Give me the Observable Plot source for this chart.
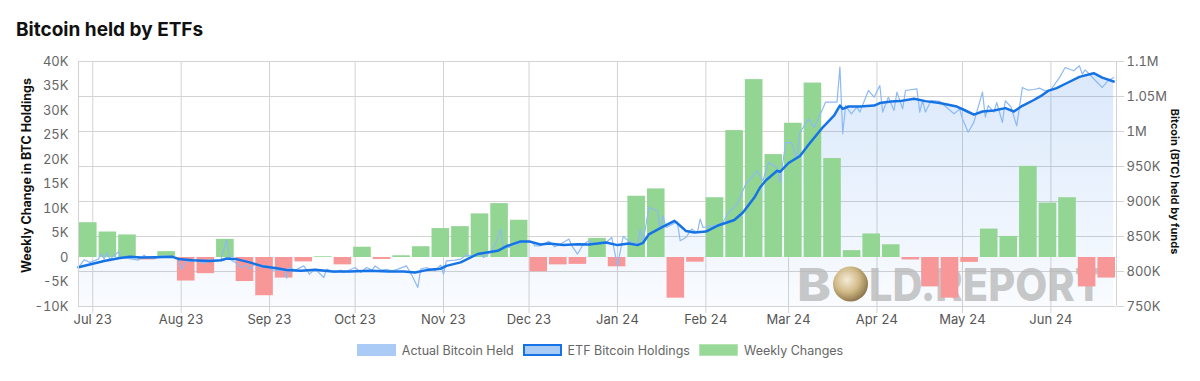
<!DOCTYPE html>
<html>
<head>
<meta charset="utf-8">
<script src="https://cdn.jsdelivr.net/npm/d3@7"></script>
<script src="https://cdn.jsdelivr.net/npm/@observablehq/plot@0.6"></script>
<style>
  html, body { margin: 0; padding: 0; background: #fff; }
  body { width: 1200px; height: 381px; overflow: hidden; font-family: Inter, "Noto Sans", sans-serif; }
  #title { height: 45px; box-sizing: border-box; padding: 19px 0 0 16px; font-size: 19px; font-weight: 700; color: #111; line-height: 22px; }
  #chart svg { display: block; }
  #legend { display: flex; justify-content: center; align-items: center; margin-top: 7px; height: 14px; font-size: 12.5px; color: #666; }
  .item { display: flex; align-items: center; margin: 0 4.5px; }
  .box { width: 39px; height: 12px; box-sizing: border-box; margin-right: 6px; }
</style>
</head>
<body>
<div id="title">Bitcoin held by ETFs</div>
<div id="chart"></div>
<div id="legend">
  <div class="item"><div class="box" style="background:#a9cbf6;border:1px solid #a9cbf6"></div><span>Actual Bitcoin Held</span></div>
  <div class="item"><div class="box" style="background:#a9cbf6;border:2px solid #1673e6"></div><span>ETF Bitcoin Holdings</span></div>
  <div class="item"><div class="box" style="background:#98d998;border:1px solid #b5e5b5"></div><span>Weekly Changes</span></div>
</div>
<script>
// ---------------- data ----------------
const xStart = "2023-06-26";
const xEnd = "2024-06-24";

// weekly change in BTC holdings (thousands of BTC), one value per weekly bar
const weeklyChangeK = [7.1, 5.2, 4.6, -0.5, 1.2, -4.8, -3.3, 3.7, -4.9, -7.8, -4.2, -0.9, 0.15, -1.5, 2.1, -0.4, 0.35, 2.2, 5.9, 6.3,
  8.9, 11.0, 7.6, -2.9, -1.5, -1.4, 3.9, -1.9, 12.5, 14.0, -8.3, -0.95, 12.2, 25.9, 36.3, 21.0, 27.4, 35.6, 20.2, 1.4,
  4.8, 2.6, -0.5, -6.0, -8.3, -1.0, 5.8, 4.3, 18.6, 11.1, 12.2, -6.0, -4.2];

// ETF Bitcoin holdings (smoothed), thousands of BTC
const etfDates = ["2023-06-26","2023-07-01","2023-07-05","2023-07-10","2023-07-14","2023-07-18","2023-07-23","2023-07-29","2023-07-31","2023-08-05",
  "2023-08-11","2023-08-15","2023-08-17","2023-08-20","2023-08-25","2023-08-30","2023-09-03","2023-09-07","2023-09-12","2023-09-17",
  "2023-09-23","2023-09-29","2023-10-06","2023-10-13","2023-10-18","2023-10-22","2023-10-26","2023-10-31","2023-11-02","2023-11-07",
  "2023-11-13","2023-11-20","2023-11-23","2023-11-28","2023-12-01","2023-12-05","2023-12-08","2023-12-13","2023-12-18","2023-12-22",
  "2023-12-28","2024-01-01","2024-01-05","2024-01-08","2024-01-10","2024-01-12","2024-01-17","2024-01-21","2024-01-23","2024-01-25",
  "2024-01-28","2024-02-01","2024-02-05","2024-02-11","2024-02-14","2024-02-18","2024-02-20","2024-02-22","2024-02-26","2024-02-27",
  "2024-03-01","2024-03-05","2024-03-08","2024-03-11","2024-03-13","2024-03-17","2024-03-19","2024-03-20","2024-03-22","2024-03-26",
  "2024-03-31","2024-04-02","2024-04-06","2024-04-09","2024-04-14","2024-04-18","2024-04-23","2024-04-29","2024-05-02","2024-05-05",
  "2024-05-08","2024-05-12","2024-05-16","2024-05-19","2024-05-22","2024-05-26","2024-05-29","2024-05-31","2024-06-03","2024-06-07",
  "2024-06-11","2024-06-16","2024-06-19","2024-06-23"];
const etfHeldK = [806, 811, 815, 819, 821, 820, 820.5, 821, 818, 816,
  815, 816, 818.5, 818, 813, 807, 805, 802, 801, 802.5,
  800, 800, 801, 800, 800, 798.5, 802, 804, 808, 813,
  825, 829.5, 836, 843, 843, 838.5, 840, 838, 839, 838.5,
  841.4, 837.7, 840, 837.7, 841, 853, 864, 872.4, 865.3, 858,
  855.7, 857, 865.3, 873.5, 884.3, 905.7, 920, 930, 943.9, 942.4,
  955, 965, 981, 996, 1006, 1023, 1037, 1032.4, 1035.7, 1035.7,
  1037, 1040.6, 1043, 1043.4, 1046.7, 1043.4, 1040.6, 1035.7, 1030, 1024,
  1028.6, 1030, 1033.4, 1028.6, 1036.7, 1045, 1052, 1058, 1062, 1070,
  1078, 1083.3, 1077, 1071.4];

// Actual Bitcoin held (daily readings), thousands of BTC
const actualHeld = [
  ["2023-06-26",806],["2023-06-28",816.7],["2023-06-30",813],["2023-07-03",817.7],["2023-07-04",825],["2023-07-05",817.7],["2023-07-06",827],["2023-07-07",817.7],
  ["2023-07-10",828],["2023-07-11",820],["2023-07-15",817.7],["2023-07-17",816.3],["2023-07-19",823.4],["2023-07-20",820],["2023-07-23",818.6],["2023-07-25",822.4],
  ["2023-07-29",821.5],["2023-07-31",817.7],["2023-08-01",803.4],["2023-08-03",815.3],["2023-08-04",814],["2023-08-06",816.7],["2023-08-09",811.4],["2023-08-11",816.7],
  ["2023-08-14",815.3],["2023-08-15",818],["2023-08-17",845.3],["2023-08-18",817.7],["2023-08-20",812.9],["2023-08-22",805.7],["2023-08-24",809],["2023-08-25",803.4],
  ["2023-08-27",810.6],["2023-08-29",805.7],["2023-08-31",809],["2023-09-02",802],["2023-09-06",802],["2023-09-07",790.6],["2023-09-08",805.7],["2023-09-10",802],
  ["2023-09-13",808],["2023-09-15",796.3],["2023-09-17",803.4],["2023-09-20",791.4],["2023-09-21",803.4],["2023-09-24",798.6],["2023-09-26",802],["2023-09-27",798.6],
  ["2023-10-01",805.7],["2023-10-03",798.6],["2023-10-05",805.7],["2023-10-07",802],["2023-10-08",808],["2023-10-10",802],["2023-10-12",803],["2023-10-14",801],
  ["2023-10-16",803.4],["2023-10-19",808],["2023-10-21",793.9],["2023-10-23",777.1],["2023-10-24",803.4],["2023-10-26",805.7],["2023-10-29",801],["2023-10-31",809],
  ["2023-11-01",796.3],["2023-11-02",815.3],["2023-11-05",816.3],["2023-11-07",817.7],["2023-11-09",823.4],["2023-11-12",821.4],["2023-11-14",827.1],["2023-11-15",820],
  ["2023-11-18",829.6],["2023-11-19",836.7],["2023-11-21",860.6],["2023-11-22",834.3],["2023-11-24",834.3],["2023-11-26",841.4],["2023-11-27",838],["2023-11-29",843],
  ["2023-12-02",843],["2023-12-03",836.7],["2023-12-05",836.7],["2023-12-08",843],["2023-12-10",835.3],["2023-12-12",839],["2023-12-15",846.3],["2023-12-16",836.7],
  ["2023-12-18",824.9],["2023-12-20",839],["2023-12-22",843.9],["2023-12-24",839],["2023-12-26",840],["2023-12-28",841.4],["2023-12-30",848.6],["2024-01-01",808],
  ["2024-01-03",850],["2024-01-05",843],["2024-01-08",839],["2024-01-09",860.6],["2024-01-10",841.4],["2024-01-12",891.4],["2024-01-15",886.7],["2024-01-16",860.6],
  ["2024-01-17",879.6],["2024-01-18",862.9],["2024-01-22",871],["2024-01-23",843.9],["2024-01-25",848.6],["2024-01-27",860.6],["2024-01-29",855.7],["2024-01-30",874.9],
  ["2024-01-31",862.9],["2024-02-03",865.3],["2024-02-05",865.3],["2024-02-07",870],["2024-02-09",884.3],["2024-02-12",896.3],["2024-02-15",924.9],["2024-02-19",943.9],
  ["2024-02-21",929.6],["2024-02-23",955.7],["2024-02-26",948.6],["2024-02-27",927],["2024-02-29",984.3],["2024-03-02",984],["2024-03-04",960.6],["2024-03-05",998.6],
  ["2024-03-08",1018],["2024-03-10",1006],["2024-03-13",1032.4],["2024-03-14",1042],["2024-03-18",1042],["2024-03-19",1092],["2024-03-20",996.7],["2024-03-21",1037],
  ["2024-03-23",1025.3],["2024-03-25",1034.8],["2024-03-26",1027.7],["2024-03-29",1058.6],["2024-03-31",1049],["2024-04-02",1065.7],["2024-04-03",1027.7],["2024-04-05",1049],
  ["2024-04-07",1030],["2024-04-08",1056.3],["2024-04-10",1032.4],["2024-04-11",1058.6],["2024-04-15",1061],["2024-04-16",1027.7],["2024-04-17",1044.3],["2024-04-18",1027.7],
  ["2024-04-20",1044.3],["2024-04-23",1042.9],["2024-04-26",1032.4],["2024-04-28",1025.3],["2024-04-30",1032],["2024-05-01",1018],["2024-05-03",999],["2024-05-05",1013.4],
  ["2024-05-08",1056.3],["2024-05-09",1020.6],["2024-05-10",1037],["2024-05-12",1027.7],["2024-05-13",1041.4],["2024-05-15",1012.9],["2024-05-16",1043.9],["2024-05-18",1035],
  ["2024-05-20",1008],["2024-05-22",1062.9],["2024-05-24",1059],["2024-05-26",1060],["2024-05-28",1062],["2024-05-30",1058],["2024-06-01",1060],["2024-06-04",1077],
  ["2024-06-06",1091.4],["2024-06-09",1086.7],["2024-06-11",1093.9],["2024-06-12",1082],["2024-06-13",1088],["2024-06-15",1079.6],["2024-06-19",1062.9],["2024-06-21",1072.4],
  ["2024-06-23",1077]];

// axes ticks and labels
const monthTicks = ["2023-07-01","2023-08-01","2023-09-01","2023-10-01","2023-11-01","2023-12-01","2024-01-01","2024-02-01","2024-03-01","2024-04-01","2024-05-01","2024-06-01"];
const leftTicks = [-10, -5, 0, 5, 10, 15, 20, 25, 30, 35, 40];
const leftLabels = ["-10K", "-5K", "0", "5K", "10K", "15K", "20K", "25K", "30K", "35K", "40K"];
const rightTicks = [750, 800, 850, 900, 950, 1000, 1050, 1100];
const rightLabels = ["750K", "800K", "850K", "900K", "950K", "1M", "1.05M", "1.1M"];
const leftTitle = "Weekly Change in BTC Holdings";
const rightTitle = "Bitcoin (BTC) held by funds";

// ---------------- chart ----------------
const parse = d3.utcParse("%Y-%m-%d");
const xDomain = [parse(xStart), parse(xEnd)];
const leftDomain = [leftTicks[0], leftTicks[leftTicks.length - 1]];
const rightDomain = [rightTicks[0], rightTicks[rightTicks.length - 1]];
const toLeft = h => leftDomain[0] + (h - rightDomain[0]) * (leftDomain[1] - leftDomain[0]) / (rightDomain[1] - rightDomain[0]);
const fromLeft = v => rightDomain[0] + (v - leftDomain[0]) * (rightDomain[1] - rightDomain[0]) / (leftDomain[1] - leftDomain[0]);

const months = monthTicks.map(parse);
const etf = etfDates.map((d, i) => ({date: parse(d), v: etfHeldK[i]}));
const actual = actualHeld.map(([d, v]) => ({date: parse(d), v}));
const bandMs = (xDomain[1] - xDomain[0]) / weeklyChangeK.length;
const bars = weeklyChangeK.map((v, i) => ({
  x1: new Date(+xDomain[0] + i * bandMs),
  x2: new Date(+xDomain[0] + (i + 1) * bandMs),
  v
}));

const leftFmt = v => leftLabels[leftTicks.indexOf(Math.round(v))];
const rightFmt = v => rightLabels[rightTicks.indexOf(Math.round(fromLeft(v)))];
const grid = "#d3d3d3";

const W = 1200, H = 291, mT = 16, mB = 30, mL = 78, mR = 84;

const chart = Plot.plot({
  width: W, height: H,
  marginTop: mT, marginBottom: mB, marginLeft: mL, marginRight: mR,
  style: {fontFamily: "Inter, 'Noto Sans', sans-serif", fontSize: "13px", background: "transparent", overflow: "visible"},
  x: {type: "utc", domain: xDomain, label: null},
  y: {domain: leftDomain, label: null},
  marks: [
    Plot.gridY(rightTicks.map(toLeft), {stroke: grid, strokeOpacity: 1}),
    Plot.gridX(months, {stroke: grid, strokeOpacity: 1}),
    Plot.areaY(etf, {x: "date", y1: leftDomain[0], y2: d => toLeft(d.v), fill: "url(#etfFill)"}),
    Plot.rectY(bars.filter(d => d.v >= 0), {x1: "x1", x2: "x2", y1: 0, y2: "v", fill: "#93d593", insetLeft: 1, insetRight: 1}),
    Plot.rectY(bars.filter(d => d.v < 0), {x1: "x1", x2: "x2", y1: 0, y2: "v", fill: "#f89797", insetLeft: 1, insetRight: 1}),
    Plot.line(actual, {x: "date", y: d => toLeft(d.v), stroke: "#8dbaf3", strokeWidth: 1.2}),
    Plot.line(etf, {x: "date", y: d => toLeft(d.v), stroke: "#1673e6", strokeWidth: 2.5}),
    Plot.ruleX(xDomain, {stroke: grid}),
    Plot.axisX(months, {tickFormat: d3.utcFormat("%b %y"), tickSize: 7, tickPadding: 1, stroke: grid, fill: "#555", label: null}),
    Plot.axisY(leftTicks, {anchor: "left", tickSize: 0, tickPadding: 10, tickFormat: leftFmt, fill: "#666", label: null}),
    Plot.axisY(rightTicks.map(toLeft), {anchor: "right", tickSize: 7, tickPadding: 3, tickFormat: rightFmt, stroke: grid, fill: "#666", label: null})
  ]
});

// decorations: gradient defs, axis titles, watermark
const NS = "http://www.w3.org/2000/svg";
const el = (name, attrs, parent) => {
  const e = document.createElementNS(NS, name);
  for (const k in attrs) e.setAttribute(k, attrs[k]);
  if (parent) parent.appendChild(e);
  return e;
};
const svg = chart.tagName.toLowerCase() === "svg" ? chart : chart.querySelector("svg");
const defs = el("defs", {});
const lg = el("linearGradient", {id: "etfFill", x1: 0, y1: 0, x2: 0, y2: 1}, defs);
el("stop", {offset: "0%", "stop-color": "#1a73e8", "stop-opacity": 0.16}, lg);
el("stop", {offset: "100%", "stop-color": "#1a73e8", "stop-opacity": 0.025}, lg);
const rg = el("radialGradient", {id: "coin", cx: "0.4", cy: "0.38", r: "0.65"}, defs);
el("stop", {offset: "0%", "stop-color": "#f3ead2"}, rg);
el("stop", {offset: "55%", "stop-color": "#cdb27a"}, rg);
el("stop", {offset: "100%", "stop-color": "#7d6433"}, rg);
svg.insertBefore(defs, svg.firstChild);

// watermark (behind bars)
const wm = el("g", {"aria-label": "watermark"});
const wmStyle = {fill: "#b9b9b9", "fill-opacity": 0.8, "font-family": "Inter, sans-serif", "font-weight": 800, "font-size": 45, "text-anchor": "start"};
el("text", {...wmStyle, x: 797, y: 255.5, textLength: 34, lengthAdjust: "spacingAndGlyphs"}, wm).textContent = "B";
el("circle", {cx: 850.5, cy: 239, r: 17.5, fill: "url(#coin)", opacity: 0.9}, wm);
el("text", {...wmStyle, x: 869, y: 255.5, textLength: 234, lengthAdjust: "spacingAndGlyphs"}, wm).textContent = "LD.REPORT";
const firstRect = svg.querySelector('g[aria-label="rect"]');
if (firstRect) svg.insertBefore(wm, firstRect); else svg.appendChild(wm);

// axis titles
const cy = mT + (H - mT - mB) / 2;
const tStyle = {"font-family": "Inter, sans-serif", "font-weight": 700, "font-size": 12.5, fill: "#111", "text-anchor": "middle"};
el("text", {...tStyle, transform: `translate(31,${cy - 8}) rotate(-90)`}, svg).textContent = leftTitle;
el("text", {...tStyle, "font-size": 11, transform: `translate(1171,${cy - 2}) rotate(90)`}, svg).textContent = rightTitle;

document.getElementById("chart").appendChild(chart);
</script>
</body>
</html>
